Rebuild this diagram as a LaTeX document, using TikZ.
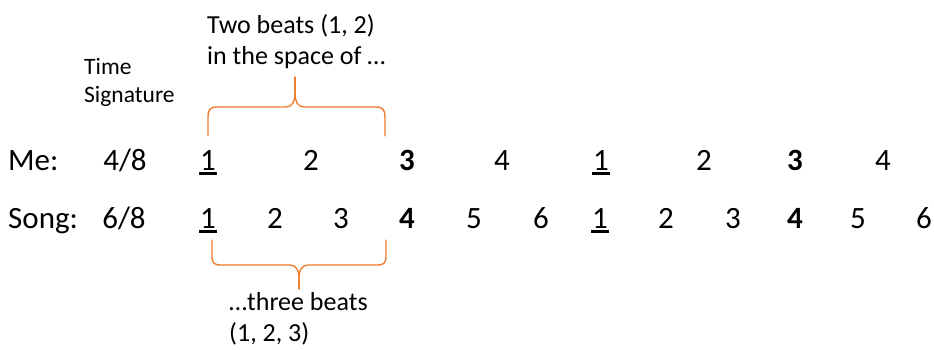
\documentclass[tikz,border=0pt]{standalone}
\usepackage{fontspec}
\setmainfont{Carlito}
\definecolor{braceorange}{RGB}{237,125,49}
\tikzset{
  big/.style={font=\fontsize{31}{37}\selectfont, inner sep=0pt, anchor=base},
  lbl/.style={font=\fontsize{31}{37}\selectfont, inner sep=0pt, anchor=base west},
  note/.style={font=\fontsize{26}{31}\selectfont, inner sep=0pt, anchor=base west},
  small/.style={font=\fontsize{23.5}{28}\selectfont, inner sep=0pt, anchor=base west},
  bracepath/.style={draw=braceorange, line width=1.4pt, line cap=round, line join=round},
  ulrule/.style={line width=2.4pt}
}
\begin{document}
\begin{tikzpicture}[x=1pt,y=-1pt]
\useasboundingbox (0,0) rectangle (934,349);
% annotations
\node[small] (ts1) at (84,74) {Time};
\node[small] (ts2) at (84,102) {Signature};
\node[note] (tb1) at (207,33) {Two beats (1, 2)};
\node[note] (tb2) at (207,64) {in the space of …};
\node[note] (th1) at (229,310) {…three beats};
\node[note] (th2) at (229,341) {(1, 2, 3)};
% Me row
\node[lbl] (me) at (8,170) {Me:};
\node[big] (mets) at (125,170) {4/8};
\node[big] (m1) at (208,170) {1};
\node[big] (m2) at (311,170) {2};
\node[big] (m3) at (407,170) {\bfseries 3};
\node[big] (m4) at (502,170) {4};
\node[big] (m5) at (601,170) {1};
\node[big] (m6) at (704,170) {2};
\node[big] (m7) at (795,170) {\bfseries 3};
\node[big] (m8) at (883,170) {4};
% Song row
\node[lbl] (song) at (8,228) {Song:};
\node[big] (sts) at (124,228) {6/8};
\node[big] (s1) at (208,228) {1};
\node[big] (s2) at (275,228) {2};
\node[big] (s3) at (341,228) {3};
\node[big] (s4) at (407,228) {\bfseries 4};
\node[big] (s5) at (474,228) {5};
\node[big] (s6) at (541,228) {6};
\node[big] (s7) at (600,228) {1};
\node[big] (s8) at (666,228) {2};
\node[big] (s9) at (733,228) {3};
\node[big] (s10) at (795,228) {\bfseries 4};
\node[big] (s11) at (858,228) {5};
\node[big] (s12) at (924,228) {6};
% underlines
\foreach \n in {m1,m5,s1,s7}{
  \draw[ulrule] ([xshift=-1pt,yshift=-3.6pt]\n.base west) -- ([xshift=1pt,yshift=-3.6pt]\n.base east);
}
% top brace
\draw[bracepath] (208,136) -- (208,117) .. controls (208,110) and (210,107) .. (217,107)
  -- (286,107) .. controls (292,107) and (295,102) .. (295,92)
  .. controls (295,102) and (298,107) .. (304,107) -- (376,107)
  .. controls (383,107) and (385,110) .. (385,117) -- (385,136);
\draw[bracepath] (295,92) -- (295,77);
% bottom brace
\draw[bracepath] (212,240) -- (212,256) .. controls (212,263) and (214,265) .. (221,265)
  -- (290,265) .. controls (296,265) and (299,270) .. (299,279)
  .. controls (299,270) and (302,265) .. (308,265) -- (377,265)
  .. controls (384,265) and (386,263) .. (386,256) -- (386,240);
\draw[bracepath] (299,279) -- (299,289);
\end{tikzpicture}
\end{document}
